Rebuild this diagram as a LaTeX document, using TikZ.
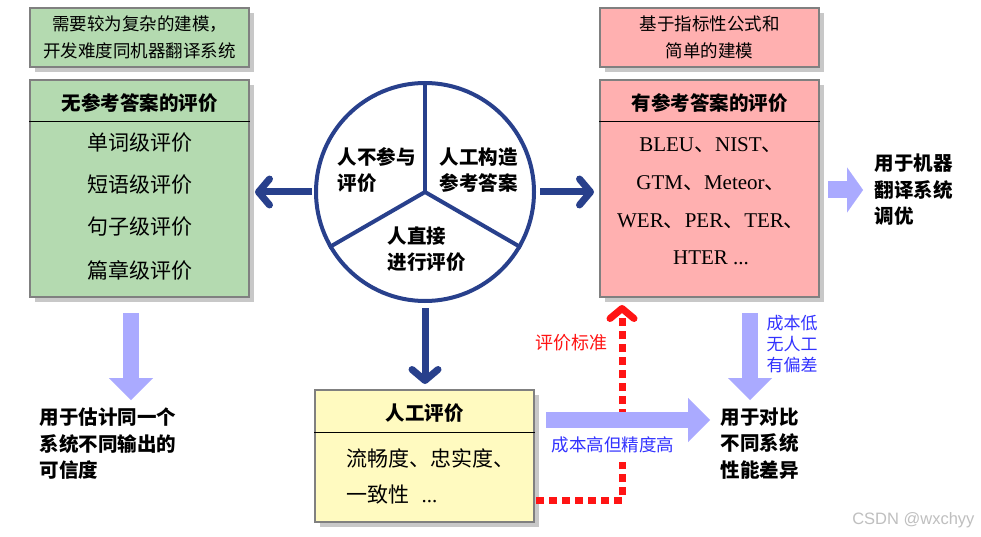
\documentclass[tikz,border=0pt]{standalone}
\usepackage{fontspec}
\setmainfont{Noto Sans CJK SC}
\newfontfamily\lat{Liberation Serif}
\newfontfamily\wm{Liberation Sans}
\usetikzlibrary{arrows.meta,shadows,calc}
\definecolor{gfill}{RGB}{180,218,176}
\definecolor{pfill}{RGB}{255,176,176}
\definecolor{yfill}{RGB}{255,250,192}
\definecolor{bord}{RGB}{128,128,128}
\definecolor{navy}{RGB}{40,64,140}
\definecolor{lav}{RGB}{170,170,255}
\definecolor{tblue}{RGB}{50,50,255}
\definecolor{tred}{RGB}{255,20,20}
\definecolor{shd}{RGB}{200,200,200}
\newcommand{\dun}{{\fontspec{Noto Sans CJK SC}、}}
\begin{document}
\begin{tikzpicture}[x=1pt,y=-1pt,
  box/.style={draw=bord, line width=2pt, inner sep=0pt,
    drop shadow={shadow xshift=5pt, shadow yshift=-5pt, fill=shd, opacity=1}},
  hdr/.style={font=\fontsize{17.5}{27}\selectfont, align=center},
  ttl/.style={font=\bfseries\fontsize{19.5}{24}\selectfont},
  itm/.style={font=\fontsize{21}{25}\selectfont},
  latin/.style={font=\lat\fontsize{21}{25}\selectfont, anchor=base},
  navyarrow/.style={draw=navy, line width=7pt, -{Straight Barb[length=11pt,width=26pt,round]}},
  fat/.style={draw=lav, line width=16pt, -{Triangle[length=22pt,width=44pt,line width=0.1pt]}},
  ann/.style={font=\bfseries\fontsize{19.5}{26.5}\selectfont, align=left, anchor=west},
  divider/.style={draw=black, line width=1pt},
]
\useasboundingbox (0,0) rectangle (981,537);
\fill[white] (0,0) rectangle (981,537);

% top explanatory boxes
\node[box, fill=gfill, minimum width=219pt, minimum height=59pt, hdr] (gtop) at (139.5,37.5)
  {需要较为复杂的建模，\\开发难度同机器翻译系统};
\node[box, fill=pfill, minimum width=219pt, minimum height=59pt, hdr] (ptop) at (709.5,37.5)
  {基于指标性公式和\\简单的建模};

% main boxes
\node[box, fill=gfill, minimum width=219pt, minimum height=217pt] (gmain) at (139.5,188.5) {};
\draw[divider] ([yshift=-43pt]gmain.north west) -- ([yshift=-43pt]gmain.north east);
\node[ttl] (gt) at (139.5,103) {无参考答案的评价};
\node[itm] (g1) at (139.5,143) {单词级评价};
\node[itm] (g2) at (139.5,185) {短语级评价};
\node[itm] (g3) at (139.5,227) {句子级评价};
\node[itm] (g4) at (139.5,270) {篇章级评价};

\node[box, fill=pfill, minimum width=219pt, minimum height=217pt] (pmain) at (709.5,188.5) {};
\draw[divider] ([yshift=-43pt]pmain.north west) -- ([yshift=-43pt]pmain.north east);
\node[ttl] (pt) at (709.5,103) {有参考答案的评价};
\node[latin] (p1) at (711,152) {BLEU\dun NIST\dun};
\node[latin] (p2) at (711,189.5) {GTM\dun Meteor\dun};
\node[latin] (p3) at (711,227) {WER\dun PER\dun TER\dun};
\node[latin] (p4) at (711,264) {HTER ...};

\node[box, fill=yfill, minimum width=219pt, minimum height=132pt] (yel) at (424.5,456) {};
\draw[divider] ([yshift=-43pt]yel.north west) -- ([yshift=-43pt]yel.north east);
\node[ttl] (yt) at (424.5,413) {人工评价};
\node[itm, anchor=west] (y1) at (343,458) {流畅度、忠实度、};
\node[itm, anchor=west] (y2) at (343,495) {一致性\hspace{12pt}{\lat ...}};

% circle
\node[circle, draw=navy, line width=4pt, minimum size=218pt, inner sep=0pt] (circ) at (425,192) {};
\draw[navy, line width=4pt] (circ.center) -- (circ.north);
\draw[navy, line width=4pt] (circ.center) -- (circ.210);
\draw[navy, line width=4pt] (circ.center) -- (circ.330);
\node[ttl, align=left, anchor=west, font=\bfseries\fontsize{19.5}{26}\selectfont] (c1) at (334,170) {人不参与\\评价};
\node[ttl, align=left, anchor=west, font=\bfseries\fontsize{19.5}{26}\selectfont] (c2) at (436,170) {人工构造\\参考答案};
\node[ttl, align=left, anchor=west, font=\bfseries\fontsize{19.5}{26}\selectfont] (c3) at (384,249.5) {人直接\\进行评价};

% navy arrows
\draw[navyarrow, shorten <=2pt, shorten >=5pt] (circ.west) -- (gmain.east |- circ.west);
\draw[navyarrow, shorten <=4pt, shorten >=5pt] (circ.east) -- (pmain.west |- circ.east);
\draw[navyarrow, shorten <=5pt, shorten >=5pt] (circ.south) -- (circ.south |- yel.north);

% red dotted arrow
\coordinate (rc) at (622,500);
\draw[draw=tred, line width=7pt, dash pattern=on 8pt off 5pt,
  -{Straight Barb[length=10pt,width=24pt,round]}, shorten >=7pt]
  ([xshift=1pt]yel.east |- rc) -- (rc) -- (rc |- pmain.south);
\node[font=\fontsize{18}{22}\selectfont, text=tred] (std) at (571,343) {评价标准};
\node[fill=white, inner xsep=1pt, inner ysep=0pt, minimum height=34pt,
  font=\fontsize{17.5}{21}\selectfont, text=tblue] (hc) at (613,445) {成本高但精度高};

% annotation texts
\node[ann] (est) at (36,444) {用于估计同一个\\系统不同输出的\\可信度};
\node[ann] (cmp) at (717,443.5) {用于对比\\不同系统\\性能差异};
\node[ann] (tune) at (871,190) {用于机器\\翻译系统\\调优};

% lavender arrows
\coordinate (la1) at (131,313); \coordinate (la2) at (131,400);
\coordinate (ra1) at (750,313); \coordinate (ra2) at (750,400);
\coordinate (ha1) at (546,420); \coordinate (ha2) at (710,420);
\coordinate (ta1) at (828,190); \coordinate (ta2) at (863,190);
\draw[fat] (la1) -- (la2);
\draw[fat] (ra1) -- (ra2);
\draw[fat] (ha1) -- (ha2);
\draw[draw=lav, line width=17pt, -{Triangle[length=16pt,width=45pt,line width=0.1pt]}] (ta1) -- (ta2);

\node[font=\fontsize{17}{21}\selectfont, text=tblue, align=left, anchor=west] (lc) at (763,344) {成本低\\无人工\\有偏差};

% watermark
\node[font=\wm\fontsize{16.5}{20}\selectfont, text=black!25, anchor=east] (wmk) at (978,520) {CSDN @wxchyy};
\end{tikzpicture}
\end{document}
